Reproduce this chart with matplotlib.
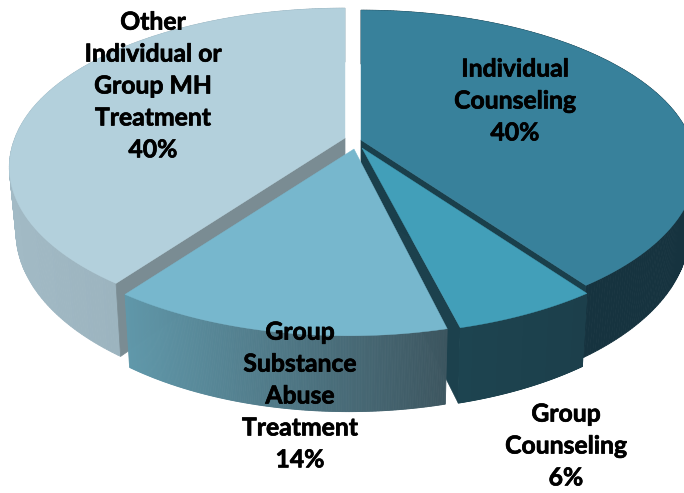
import numpy as np
import matplotlib
matplotlib.use("Agg")
import matplotlib.pyplot as plt
import matplotlib.patheffects as pe
from matplotlib.colors import LinearSegmentedColormap

# ----------------------------
# Data, clockwise from 12 o'clock
# ----------------------------
labels = ["Individual\nCounseling", "Group\nCounseling",
          "Group\nSubstance\nAbuse\nTreatment", "Other\nIndividual or\nGroup MH\nTreatment"]
values = [40, 6, 14, 40]

# ----------------------------
# Style of each slice
# ----------------------------
top_colors = ["#38819b", "#429fb9", "#77b7cd", "#b3d0dc"]
wall_left = ["#16333f", "#1d4450", "#6098aa", "#a2bac5"]
wall_right = ["#16333f", "#1c3f4b", "#3d5660", "#8ea6b2"]
cut_colors = ["#1a3f4b", "#1c414d", "#1c414d", "#7a8c93"]
apex_x = [361, 362, 354, 345]
apex_y = [140, 148, 149, 138]
shear = [0, 0, 0.028, 0.028]
label_x = [515, 566, 300, 153]
label_y = [101, 446, 396, 86]

# perspective of the pie disc, in pixels
A = 330
B = 155
K = 0.17
FAR = 0.98
DEPTH = 63
BOTTOM_SHRINK = 0.98


def project(theta, cx, cy, s):
    u = np.sin(theta)
    v = -np.cos(theta)
    d = 1 - K * v
    py = B * v / d
    px = A * u / d - s * np.maximum(py, 0)
    py = np.where(py < 0, py * FAR, py)
    return cx + px, cy + py


def drop(x, y, theta, cx, cy):
    # same rim point on the lower face of the slice
    d = 1 + K * np.cos(theta)
    return cx + (x - cx) * BOTTOM_SHRINK, y + DEPTH / d


def cut_wall(theta, cx, cy, s, color, z):
    x, y = project(theta, cx, cy, s)
    bx, by = drop(x, y, theta, cx, cy)
    ax.fill([cx, x, bx, cx], [cy, y, by, cy + DEPTH], color=color, lw=0.5, zorder=z)


fig = plt.figure(figsize=(6.84, 4.93), dpi=100)
ax = fig.add_axes([0, 0, 1, 1])
ax.set_xlim(0, 684)
ax.set_ylim(493, 0)
ax.axis("off")

edges = np.deg2rad(np.cumsum([0] + values) * 3.6)
# back slices first so nearer ones cover them
order = {0: 2, 1: 3, 2: 4, 3: 1}

for i in range(len(values)):
    cx, cy, s = apex_x[i], apex_y[i], shear[i]
    z = order[i] * 10
    t0, t1 = edges[i], edges[i + 1]
    cmap = LinearSegmentedColormap.from_list("wall", [wall_left[i], wall_right[i]])

    # outer wall, split in thin strips for the gradient
    t = np.linspace(t0, t1, 241)
    x, y = project(t, cx, cy, s)
    bx, by = drop(x, y, t, cx, cy)
    xmin, xmax = x.min(), x.max()
    for j in range(len(t) - 1):
        c = cmap((x[j] - xmin) / (xmax - xmin))
        ax.fill([x[j], x[j + 1], bx[j + 1], bx[j]], [y[j], y[j + 1], by[j + 1], by[j]],
                color=c, lw=0.6, zorder=z)

    # faces of the cuts
    if i == 0:
        cut_wall(t0, cx, cy, s, cut_colors[i], z)
        cut_wall(t1, cx, cy, s, cut_colors[i], z)
    elif i == 1:
        cut_wall(t1, cx, cy, s, cut_colors[i], z - 1 - 10)
    elif i == 3:
        cut_wall(t0, cx, cy, s, cut_colors[i], z)

    # top face
    ax.fill(np.r_[cx, x], np.r_[cy, y], color=top_colors[i], lw=0.3, zorder=z + 5)

for i in range(len(values)):
    ax.text(label_x[i], label_y[i], labels[i] + "\n" + str(values[i]) + "%",
            ha="center", va="center", fontsize=17.8, fontweight="bold", family="Lato",
            color="black", linespacing=1.47, zorder=100,
            path_effects=[pe.withStroke(linewidth=0.5, foreground="black")])

fig.savefig("out.png", dpi=100)
